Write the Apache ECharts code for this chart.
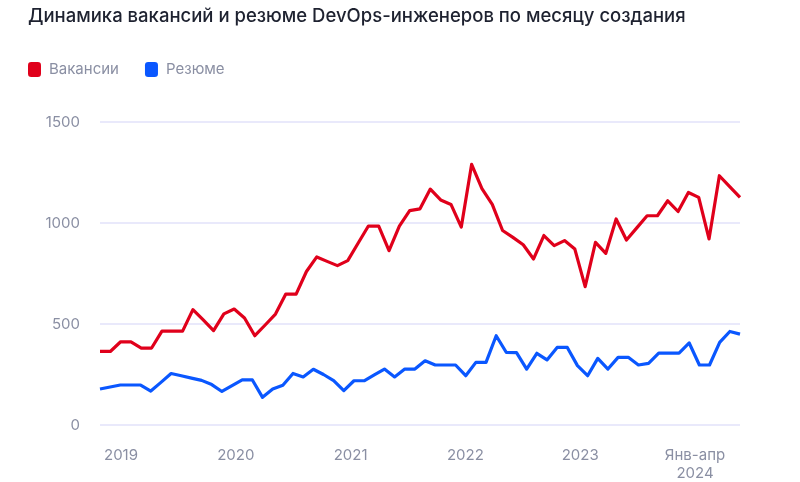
<!DOCTYPE html>
<html>
<head>
<meta charset="utf-8">
<script src="https://cdn.jsdelivr.net/npm/echarts@6/dist/echarts.min.js"></script>
<style>
html,body{margin:0;padding:0;background:#fff;}
#c{width:800px;height:482px;}
</style>
</head>
<body>
<div id="c"></div>
<script>
// Вакансии: 63 monthly points
var vacancies = [364,364,412,412,381,381,465,465,465,571,
  520,467,550,574,530,442,495,549,648,648,
  760,832,810,789,814,900,985,985,863,985,
  1061,1070,1168,1114,1092,980,1290,1170,1092,963,
  929,892,822,938,888,913,871,685,904,850,
  1020,916,976,1036,1036,1110,1057,1151,1127,921,
  1234,1180,1127];
// Резюме: 64 monthly points (Jan 2019 – Apr 2024)
var resumes = [178,188,198,198,198,168,211,255,244,232,
  221,200,166,195,223,223,137,178,197,255,
  238,276,250,220,170,219,219,248,277,238,
  277,277,318,297,297,297,244,310,310,442,
  359,358,277,355,322,384,384,294,244,330,
  277,335,335,297,305,356,356,356,406,297,
  297,409,463,450];
var yearLabels = ['2019','2020','2021','2022','2023','Янв-апр\n2024'];
var yTicks = {min:0, max:1500, interval:500};

var resumeCats = [];
for (var y = 2019; y <= 2024; y++) {
  for (var m = 1; m <= 12; m++) {
    if (resumeCats.length < resumes.length) resumeCats.push(y + '-' + (m < 10 ? '0' + m : m));
  }
}
var vacancyCats = vacancies.map(function(_, i){ return 'v' + i; });

var FONT = 'Inter, "Noto Sans", sans-serif';
var GRAY = '#8a8fa3';
var chart = echarts.init(document.getElementById('c'), null, {renderer:'canvas'});
chart.setOption({
  animation:false,
  backgroundColor:'#ffffff',
  title:{
    text:'Динамика вакансий и резюме DevOps-инженеров по месяцу создания',
    left:28, top:7, padding:0,
    textStyle:{fontFamily:FONT, fontSize:18.5, fontWeight:500, color:'#1e2230'}
  },
  legend:{
    left:28, top:62, padding:0,
    icon:'roundRect', itemWidth:13, itemHeight:15, itemGap:26,
    textStyle:{fontFamily:FONT, fontSize:15, color:GRAY, padding:[0,0,0,3]},
    data:['Вакансии','Резюме']
  },
  grid:[
    {left:100, right:60, top:122, bottom:57},
    {left:121, right:105, top:122, bottom:57}
  ],
  xAxis:[
    {type:'category', gridIndex:0, data:resumeCats, boundaryGap:false, show:false},
    {type:'category', gridIndex:0, data:vacancyCats, boundaryGap:false, show:false},
    {type:'category', gridIndex:1, data:yearLabels, boundaryGap:false,
     axisLine:{show:false}, axisTick:{show:false}, splitLine:{show:false},
     axisLabel:{interval:0, margin:22, fontFamily:FONT, fontSize:15, color:GRAY, lineHeight:18}}
  ],
  yAxis:[
    {type:'value', gridIndex:0, min:yTicks.min, max:yTicks.max, interval:yTicks.interval,
     axisLine:{show:false}, axisTick:{show:false},
     axisLabel:{margin:20, fontFamily:FONT, fontSize:15, color:GRAY,
       formatter:function(v){ return String(v); }},
     splitLine:{lineStyle:{color:'#e2e2fa', width:1.5}}},
    {type:'value', gridIndex:1, min:0, max:1500, show:false, splitLine:{show:false}}
  ],
  series:[
    {name:'Вакансии', type:'line', xAxisIndex:1, yAxisIndex:0, data:vacancies,
     showSymbol:false, symbol:'none', color:'#e0001b',
     lineStyle:{width:3.2, color:'#e0001b', join:'round'}, z:3},
    {name:'Резюме', type:'line', xAxisIndex:0, yAxisIndex:0, data:resumes,
     showSymbol:false, symbol:'none', color:'#0a57ff',
     lineStyle:{width:3.2, color:'#0a57ff', join:'round'}, z:2}
  ]
});
</script>
</body>
</html>
